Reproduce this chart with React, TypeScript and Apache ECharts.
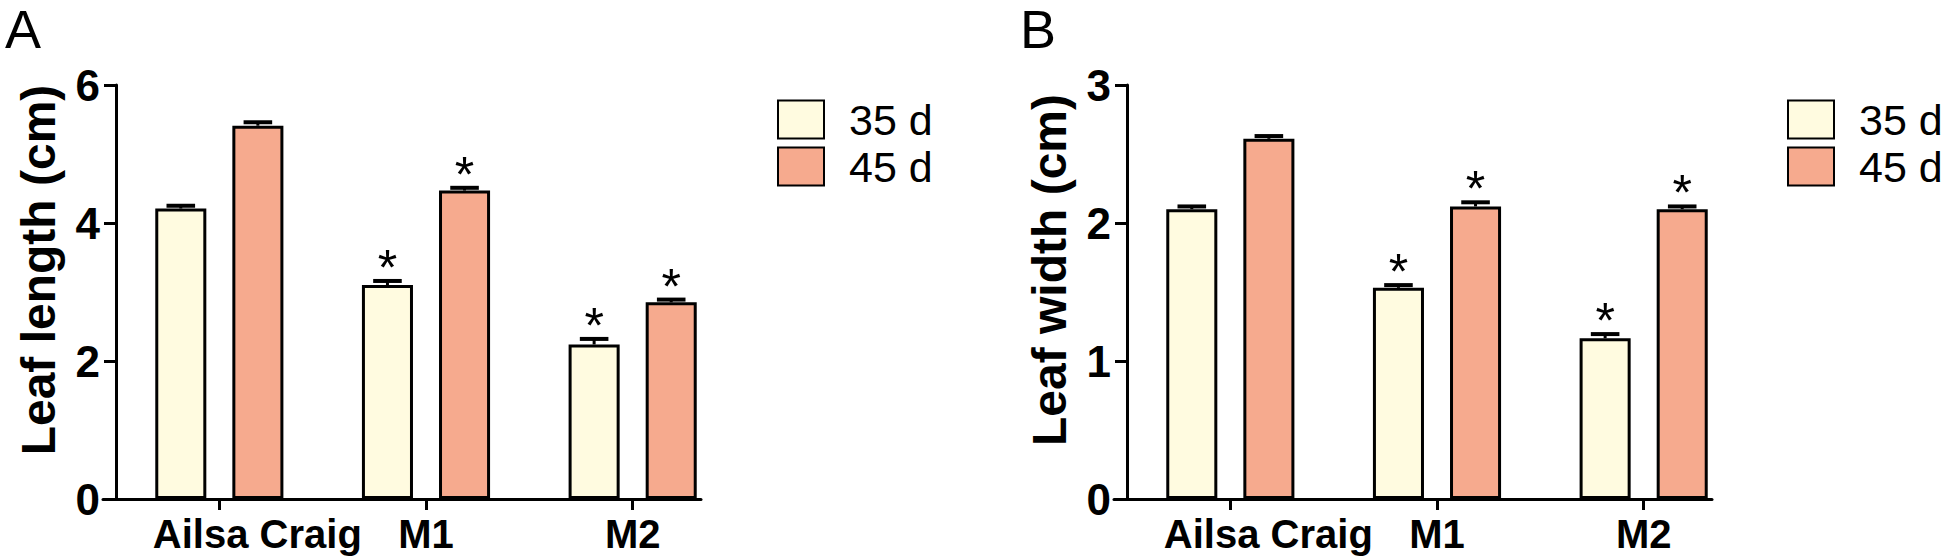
import React, { useEffect, useRef } from "react";
import * as echarts from "echarts";

// ---- data ----
const categories = ["Ailsa Craig", "M1", "M2"];
const seriesNames = ["35 d", "45 d"];

const lengthMean35 = [4.21, 3.1, 2.24];
const lengthErr35 = [0.04, 0.06, 0.08];
const lengthMean45 = [5.41, 4.47, 2.85];
const lengthErr45 = [0.05, 0.04, 0.04];

const widthMean35 = [2.1, 1.53, 1.165];
const widthErr35 = [0.02, 0.02, 0.03];
const widthMean45 = [2.61, 2.12, 2.1];
const widthErr45 = [0.02, 0.03, 0.02];

const sig35 = [0, 1, 1];
const sig45 = [0, 1, 1];

const lengthTicks = { min: 0, max: 6, interval: 2 };
const widthTicks = { min: 0, max: 3, interval: 1 };

// ---- style ----
const FONT = "'Liberation Sans', Arial, sans-serif";
const COLOR35 = "#FFFBE0";
const COLOR45 = "#F6AA8E";
const BAR_W = 0.247;
const BAR_GAP = 0.51;

function errRenderer(sign: number) {
  return (params: any, api: any) => {
    const ci = api.value(0);
    const mean = api.value(1);
    const err = api.value(2);
    const star = api.value(3);
    const band = api.size([1, 0])[0];
    const w = band * BAR_W;
    const g = w * BAR_GAP;
    const cx = api.coord([ci, 0])[0] + (sign * (w + g)) / 2;
    const yM = api.coord([ci, mean])[1];
    const yT = api.coord([ci, mean + err])[1];
    const half = w * 0.28;
    const children: any[] = [
      { type: "line", shape: { x1: cx, y1: yM, x2: cx, y2: yT }, style: { stroke: "#000", lineWidth: 3 } },
      { type: "line", shape: { x1: cx - half, y1: yT, x2: cx + half, y2: yT }, style: { stroke: "#000", lineWidth: 4 } },
    ];
    if (star) {
      children.push({
        type: "text",
        x: cx,
        y: yT - 13,
        style: { text: "*", fontSize: 50, fontFamily: FONT, fill: "#000", align: "center", verticalAlign: "middle" },
      });
    }
    return { type: "group", children };
  };
}

function errData(mean: number[], err: number[], sig: number[]) {
  return mean.map((m, i) => [i, m, err[i], sig[i]]);
}

function panel(gi: number, axisGi: number, yName: string, ticks: any) {
  const xAxes = [
    {
      type: "category",
      gridIndex: gi,
      data: categories,
      axisLine: { show: false },
      axisTick: { show: true, alignWithLabel: true, length: 11, lineStyle: { color: "#000", width: 3 } },
      axisLabel: {
        interval: 0,
        hideOverlap: false,
        color: "#000",
        fontFamily: FONT,
        fontWeight: "bold",
        fontSize: 40,
        margin: 15,
        formatter: (v: string) => (v === categories[0] ? "{ac|" + v + "}" : v),
        rich: {
          ac: { padding: [0, 0, 0, 76], color: "#000", fontFamily: FONT, fontWeight: "bold", fontSize: 40 },
        },
      },
    },
    {
      type: "value",
      gridIndex: axisGi,
      min: 0,
      max: 1,
      axisLine: { show: true, onZero: false, lineStyle: { color: "#000", width: 3 } },
      axisTick: { show: false },
      axisLabel: { show: false },
      splitLine: { show: false },
    },
  ];
  const yAxes = [
    {
      type: "value",
      gridIndex: gi,
      min: ticks.min,
      max: ticks.max,
      interval: ticks.interval,
      name: yName,
      nameLocation: "middle",
      nameRotate: 90,
      nameGap: 54,
      nameTextStyle: { color: "#000", fontFamily: FONT, fontWeight: "bold", fontSize: 48, padding: [0, 0, 0, 44] },
      axisLine: { show: true, lineStyle: { color: "#000", width: 3 } },
      axisTick: { show: true, length: 12, lineStyle: { color: "#000", width: 3 } },
      axisLabel: { color: "#000", fontFamily: FONT, fontWeight: "bold", fontSize: 44, margin: 16 },
      splitLine: { show: false },
    },
    { type: "value", gridIndex: axisGi, show: false, min: 0, max: 1 },
  ];
  return { xAxes, yAxes };
}

export default function App() {
  const ref = useRef<HTMLDivElement>(null);
  useEffect(() => {
    document.body.style.margin = "0";
    if (!ref.current) return;
    const chart = echarts.init(ref.current, null, { renderer: "svg" });
    const pA = panel(0, 1, "Leaf length (cm)", lengthTicks);
    const pB = panel(2, 3, "Leaf width (cm)", widthTicks);
    const barStyle = (c: string) => ({ color: c, borderColor: "#000", borderWidth: 3 });
    const bar = (name: string, xi: number, yi: number, data: number[], c: string) => ({
      type: "bar",
      name,
      xAxisIndex: xi,
      yAxisIndex: yi,
      data,
      barWidth: BAR_W * 100 + "%",
      barGap: BAR_GAP * 100 + "%",
      itemStyle: barStyle(c),
      emphasis: { disabled: true },
    });
    const custom = (name: string, xi: number, yi: number, data: any[], sign: number) => ({
      type: "custom",
      name: name + " err",
      xAxisIndex: xi,
      yAxisIndex: yi,
      data,
      encode: { x: 0, y: 1 },
      renderItem: errRenderer(sign),
      z: 5,
    });
    const legend = (left: number) => ({
      orient: "vertical",
      left,
      top: 98,
      padding: 0,
      itemGap: 4,
      itemWidth: 46,
      itemHeight: 38,
      icon: "rect",
      data: seriesNames,
      selectedMode: false,
      textStyle: { color: "#000", fontFamily: FONT, fontSize: 43, padding: [0, 0, 0, 20] },
    });
    const letter = (text: string, left: number) => ({
      type: "text",
      left,
      top: 2,
      style: { text, fontSize: 54, lineHeight: 46, fontFamily: FONT, fill: "#000" },
    });
    const option: any = {
      animation: false,
      textStyle: { fontFamily: FONT },
      grid: [
        { left: 116, top: 85, width: 620, height: 414 },
        { left: 103, top: 85, width: 598, height: 414 },
        { left: 1127, top: 85, width: 620, height: 414 },
        { left: 1114, top: 85, width: 598, height: 414 },
      ],
      xAxis: [...pA.xAxes, ...pB.xAxes],
      yAxis: [...pA.yAxes, ...pB.yAxes],
      legend: [legend(777), legend(1787)],
      graphic: [letter("A", 5), letter("B", 1020)],
      series: [
        bar(seriesNames[0], 0, 0, lengthMean35, COLOR35),
        bar(seriesNames[1], 0, 0, lengthMean45, COLOR45),
        custom(seriesNames[0], 0, 0, errData(lengthMean35, lengthErr35, sig35), -1),
        custom(seriesNames[1], 0, 0, errData(lengthMean45, lengthErr45, sig45), 1),
        bar(seriesNames[0], 2, 2, widthMean35, COLOR35),
        bar(seriesNames[1], 2, 2, widthMean45, COLOR45),
        custom(seriesNames[0], 2, 2, errData(widthMean35, widthErr35, sig35), -1),
        custom(seriesNames[1], 2, 2, errData(widthMean45, widthErr45, sig45), 1),
      ],
    };
    chart.setOption(option);
    return () => chart.dispose();
  }, []);
  return <div ref={ref} style={{ width: 1943, height: 560 }} />;
}
